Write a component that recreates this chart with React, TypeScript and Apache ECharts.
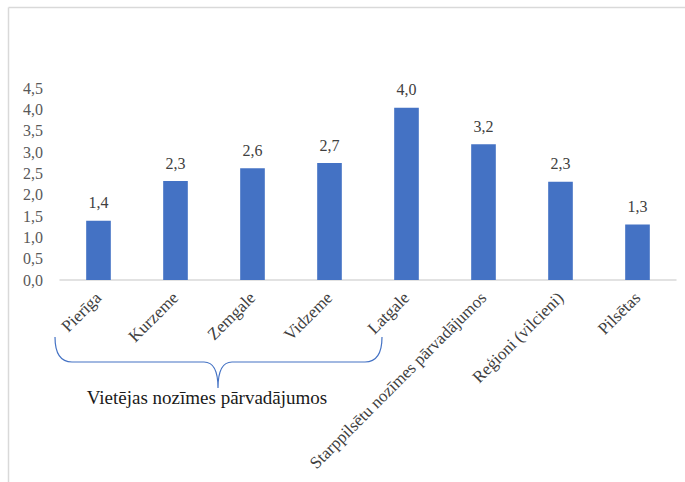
import React, { useEffect, useRef } from "react";
import * as echarts from "echarts";

const categories = [
  "Pierīga",
  "Kurzeme",
  "Zemgale",
  "Vidzeme",
  "Latgale",
  "Starppilsētu nozīmes pārvadājumos",
  "Reģioni (vilcieni)",
  "Pilsētas",
];
const values = [1.39, 2.32, 2.62, 2.74, 4.04, 3.18, 2.3, 1.3];
const yTicks = { min: 0, max: 4.5, interval: 0.5 };
const braceLabel = "Vietējas nozīmes pārvadājumos";

const fmt = (v: number) => v.toFixed(1).replace(".", ",");

let registered = false;
function registerBrace() {
  if (registered) return;
  registered = true;
  const d =
    "M55,337 Q55,362 72,362 L204,362 Q218,362 218,388 Q218,362 232,362 L365,362 Q382,362 382,337";
  echarts.graphic.registerShape("brace", echarts.graphic.extendPath(d, {}));
}

export default function App() {
  const ref = useRef<HTMLDivElement>(null);
  useEffect(() => {
    document.body.style.margin = "0";
    registerBrace();
    const chart = echarts.init(ref.current!, null, { renderer: "svg" });
    const font = "Times New Roman, Liberation Serif, DejaVu Serif, serif";
    chart.setOption({
      animation: false,
      backgroundColor: "#ffffff",
      textStyle: { fontFamily: font },
      grid: { left: 60, right: 9, top: 88, bottom: 202, containLabel: false },
      xAxis: {
        type: "category",
        data: categories,
        axisLine: { show: true, lineStyle: { color: "#d9d9d9", width: 1.5 } },
        axisTick: { show: false },
        axisLabel: {
          interval: 0,
          rotate: 45,
          margin: 15,
          fontFamily: font,
          fontSize: 17,
          color: "#404040",
        },
      },
      yAxis: {
        type: "value",
        min: yTicks.min,
        max: yTicks.max,
        interval: yTicks.interval,
        axisLine: { show: false },
        axisTick: { show: false },
        splitLine: { show: false },
        axisLabel: {
          margin: 17,
          fontFamily: font,
          fontSize: 16,
          color: "#595959",
          formatter: (v: number) => fmt(v),
        },
      },
      series: [
        {
          type: "bar",
          data: values,
          barWidth: "32%",
          itemStyle: { color: "#4472C4" },
          label: {
            show: true,
            position: "top",
            distance: 10,
            fontFamily: font,
            fontSize: 16,
            color: "#404040",
            formatter: (p: any) => fmt(p.value),
          },
        },
      ],
      graphic: [
        {
          type: "line",
          shape: { x1: 8.5, y1: 7.5, x2: 685, y2: 7.5 },
          style: { stroke: "#d9d9d9", lineWidth: 1.5 },
        },
        {
          type: "line",
          shape: { x1: 8.5, y1: 7.5, x2: 8.5, y2: 482 },
          style: { stroke: "#d9d9d9", lineWidth: 1.5 },
        },
        {
          type: "brace",
          x: 0,
          y: 0,
          scaleX: 1,
          scaleY: 1,
          style: { stroke: "#4472C4", fill: "none", lineWidth: 1.2 },
        },
        {
          type: "text",
          x: 207,
          y: 397,
          style: {
            text: braceLabel,
            fontFamily: font,
            fontSize: 19,
            fill: "#1a1a1a",
            textAlign: "center",
            textVerticalAlign: "middle",
          },
        },
      ],
    });
    return () => chart.dispose();
  }, []);
  return <div ref={ref} style={{ width: 685, height: 482 }} />;
}
